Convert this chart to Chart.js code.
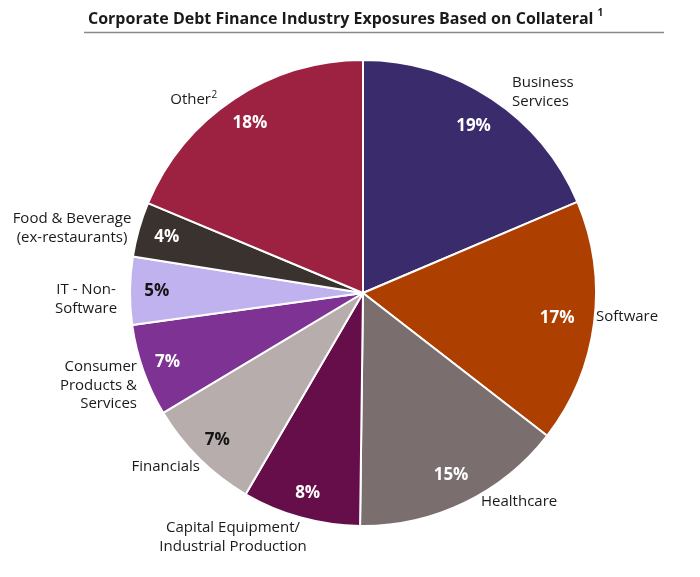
<!DOCTYPE html>
<html>
<head>
<meta charset="utf-8">
<script src="https://cdn.jsdelivr.net/npm/chart.js@4"></script>
<style>
  html, body { margin: 0; padding: 0; background: #ffffff; }
  #wrap { width: 700px; height: 577px; }
</style>
</head>
<body>
<div id="wrap"><canvas id="c" width="700" height="577"></canvas></div>
<script>
// ---- data ----
const categories = [
  "Business Services", "Software", "Healthcare",
  "Capital Equipment/Industrial Production", "Financials",
  "Consumer Products & Services", "IT - Non-Software",
  "Food & Beverage (ex-restaurants)", "Other"
];
const shareValues = [18.6, 16.9, 14.7, 8.2, 8.0, 6.4, 4.7, 3.8, 18.7];
const shareLabels = ["19%", "17%", "15%", "8%", "7%", "7%", "5%", "4%", "18%"];
const outerLabelLines = [
  ["Business", "Services"],
  ["Software"],
  ["Healthcare"],
  ["Capital Equipment/", "Industrial Production"],
  ["Financials"],
  ["Consumer", "Products &", "Services"],
  ["IT - Non-", "Software"],
  ["Food & Beverage", "(ex-restaurants)"],
  ["Other"]
];
const titleText = "Corporate Debt Finance Industry Exposures Based on Collateral";

// ---- styles ----
const sliceColors = ['#392b6c', '#ad3f00', '#7a6e6e', '#660e4a', '#b7adac',
                     '#7d3294', '#bfb2ef', '#3a322f', '#9d2141'];
const pctColors = ['#ffffff', '#ffffff', '#ffffff', '#ffffff', '#141414',
                   '#ffffff', '#141414', '#ffffff', '#ffffff'];
const pctRadius = [0.86, 0.84, 0.87, 0.89, 0.89, 0.89, 0.885, 0.875, 0.875];
// outer label layout: offset from pie centre (px), alignment
const outerLayout = [
  {dx: 149, dy: -210, align: 'left'},
  {dx: 233, dy: 24, align: 'left'},
  {dx: 118, dy: 209, align: 'left'},
  {dx: -130, dy: 235, align: 'center'},
  {dx: -163, dy: 174, align: 'right'},
  {dx: -226, dy: 74, align: 'right'},
  {dx: -277, dy: -3, align: 'center'},
  {dx: -291, dy: -74, align: 'center'},
  {dx: -152, dy: -193, align: 'right', sup: '2'}
];
const FONT = '"Open Sans", "Noto Sans", sans-serif';

const labelPlugin = {
  id: 'labels',
  afterDatasetsDraw(chart) {
    const ctx = chart.ctx;
    const meta = chart.getDatasetMeta(0);
    ctx.save();
    meta.data.forEach((arc, i) => {
      const p = arc.getProps(['x', 'y', 'startAngle', 'endAngle', 'outerRadius'], true);
      const mid = (p.startAngle + p.endAngle) / 2;
      const r = p.outerRadius * pctRadius[i];
      ctx.font = 'bold 17px ' + FONT;
      ctx.fillStyle = pctColors[i];
      ctx.textAlign = 'center';
      ctx.textBaseline = 'middle';
      ctx.fillText(shareLabels[i], p.x + Math.cos(mid) * r, p.y + Math.sin(mid) * r);

      const lay = outerLayout[i];
      ctx.font = '15px ' + FONT;
      ctx.fillStyle = '#1a1a1a';
      ctx.textAlign = lay.align;
      outerLabelLines[i].forEach((line, k) => {
        ctx.fillText(line, p.x + lay.dx, p.y + lay.dy + k * 18.5);
      });
      if (lay.sup) {
        ctx.font = '10px ' + FONT;
        ctx.textAlign = 'left';
        ctx.fillText(lay.sup, p.x + lay.dx + 0.5, p.y + lay.dy - 5);
      }
    });
    ctx.restore();
  }
};

const titlePlugin = {
  id: 'titleline',
  afterDraw(chart) {
    const ctx = chart.ctx;
    ctx.save();
    ctx.font = 'bold 16px ' + FONT;
    ctx.fillStyle = '#1a1a1a';
    ctx.textAlign = 'left';
    ctx.textBaseline = 'alphabetic';
    ctx.fillText(titleText, 88, 24);
    const w = ctx.measureText(titleText).width;
    ctx.font = 'bold 10px ' + FONT;
    ctx.fillText('1', 88 + w + 4, 16);
    ctx.strokeStyle = '#8a8a8a';
    ctx.lineWidth = 1.5;
    ctx.beginPath();
    ctx.moveTo(84, 32.5);
    ctx.lineTo(664, 32.5);
    ctx.stroke();
    ctx.restore();
  }
};

new Chart(document.getElementById('c'), {
  type: 'pie',
  data: {
    labels: categories,
    datasets: [{
      data: shareValues,
      backgroundColor: sliceColors,
      borderColor: '#ffffff',
      borderWidth: 2
    }]
  },
  options: {
    responsive: false,
    animation: false,
    layout: { padding: { left: 129, right: 103, top: 59, bottom: 50 } },
    plugins: {
      legend: { display: false },
      tooltip: { enabled: false },
      title: { display: false }
    }
  },
  plugins: [labelPlugin, titlePlugin]
});
</script>
</body>
</html>
